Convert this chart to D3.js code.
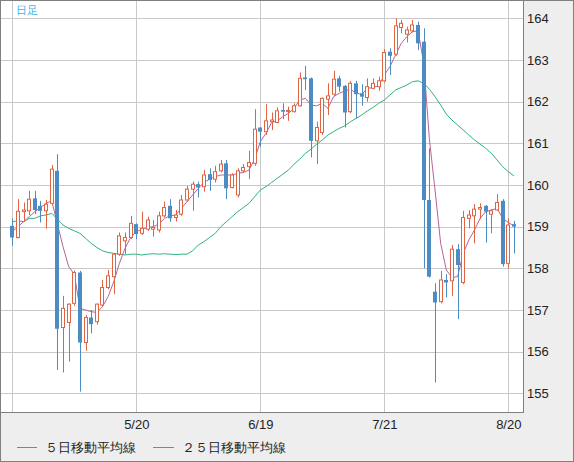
<!DOCTYPE html>
<html><head><meta charset="utf-8">
<script src="https://cdn.jsdelivr.net/npm/d3@7"></script>
<style>
html,body{margin:0;padding:0;background:#fff;}
svg{display:block;}
text{font-family:"Liberation Sans","DejaVu Sans",sans-serif;}
</style></head>
<body>
<svg id="c" width="574" height="462"></svg>
<script>
// ---- data ----
const openV = [159.02,158.74,159.36,159.38,159.68,159.50,159.38,159.56,160.34,156.58,
156.70,157.16,157.90,156.22,156.82,156.72,157.12,157.54,157.80,158.34,
158.66,158.74,159.06,158.84,158.94,158.94,158.92,159.26,159.50,159.22,
159.30,159.64,159.90,160.02,159.96,160.26,160.14,160.34,160.52,159.94,
159.76,160.34,160.44,160.52,161.38,161.28,161.52,161.50,161.80,161.77,
161.76,161.90,162.58,162.56,161.06,161.26,162.06,162.18,162.56,162.38,
161.76,162.44,162.20,162.10,162.32,162.36,162.50,163.20,163.14,163.78,
163.62,163.70,163.84,163.44,159.64,157.44,157.20,157.72,157.70,158.46,
157.66,159.20,159.26,159.42,159.50,159.30,159.40,159.62,158.12,159.06];
const highV = [159.20,159.66,159.58,159.86,159.86,159.62,159.64,160.48,160.74,157.34,
157.16,157.95,157.94,156.88,157.00,157.16,157.72,157.96,158.36,158.86,
158.86,159.26,159.08,159.36,159.24,159.16,159.36,159.60,159.66,159.40,
159.76,159.98,160.08,160.08,160.36,160.40,160.46,160.60,160.60,160.28,
160.40,160.50,160.82,161.82,161.38,161.94,161.74,161.86,161.96,161.88,
161.96,162.70,162.86,162.58,161.52,162.10,162.44,162.74,162.62,162.40,
162.50,162.50,162.42,162.56,162.56,162.60,163.26,163.28,164.00,163.96,
163.80,163.96,163.92,163.76,160.88,157.64,157.94,157.86,158.56,158.58,
159.38,159.40,159.54,159.56,159.52,159.42,159.78,159.66,159.20,159.14];
const lowV = [158.54,158.72,159.12,159.28,159.30,159.10,158.95,159.52,155.56,155.50,
155.76,157.10,155.04,156.02,156.44,156.65,157.08,157.50,157.38,158.30,
158.34,158.70,158.70,158.80,158.90,158.76,158.86,159.22,159.12,159.12,
159.26,159.60,159.38,159.70,159.84,159.86,160.06,160.30,159.66,159.92,
159.70,160.30,160.14,160.46,160.92,161.20,161.32,161.48,161.58,161.54,
161.74,161.88,162.28,160.66,160.50,161.20,161.68,162.14,162.24,161.38,
161.72,161.60,161.90,162.00,162.30,162.26,162.46,162.64,163.10,163.64,
163.42,163.66,163.24,158.00,157.78,155.26,157.16,157.30,157.34,156.78,
157.62,158.96,158.60,159.18,158.62,158.84,159.38,158.04,158.00,158.36];
const closeV = [158.74,159.37,159.40,159.66,159.40,159.38,159.54,160.38,156.55,157.04,
157.14,157.90,156.22,156.82,156.66,157.14,157.54,157.82,158.34,158.78,
158.74,159.08,158.82,158.96,159.16,158.98,159.26,159.46,159.20,159.28,
159.64,159.90,160.02,159.94,160.24,160.12,160.32,160.50,159.92,160.24,
160.34,160.42,160.54,161.34,161.28,161.54,161.56,161.78,161.76,161.79,
161.90,162.56,162.54,161.06,161.38,162.08,162.14,162.54,162.36,161.74,
162.44,162.18,162.12,162.36,162.44,162.50,163.18,163.10,163.82,163.88,
163.72,163.84,163.40,159.64,157.80,157.18,157.72,157.66,158.46,158.08,
159.22,159.28,159.42,159.46,159.36,159.38,159.58,158.10,159.04,159.00];
const ma5V = [158.88,159.00,159.12,159.24,159.36,159.46,159.56,159.62,159.06,158.52,
158.04,157.86,157.04,157.00,156.96,156.94,157.08,157.32,157.68,158.12,
158.48,158.74,158.88,158.94,158.98,159.00,159.06,159.20,159.26,159.28,
159.44,159.60,159.76,159.92,160.06,160.14,160.20,160.24,160.24,160.24,
160.28,160.30,160.36,160.62,161.04,161.24,161.50,161.54,161.64,161.72,
161.84,162.04,162.08,161.92,161.90,161.96,161.84,162.12,162.20,162.26,
162.30,162.20,162.18,162.32,162.34,162.38,162.64,162.84,163.12,163.40,
163.56,163.68,163.70,162.92,161.10,159.88,158.60,157.96,157.78,157.80,
158.36,158.68,158.92,159.20,159.36,159.40,159.44,159.20,159.10,159.02];
const ma25V = [159.12,159.14,159.12,159.20,159.20,159.26,159.28,159.32,159.18,159.04,
158.96,158.90,158.84,158.72,158.60,158.50,158.42,158.38,158.36,158.34,
158.32,158.34,158.34,158.32,158.34,158.35,158.34,158.35,158.34,158.33,
158.34,158.34,158.42,158.56,158.64,158.74,158.84,159.00,159.12,159.24,
159.36,159.46,159.56,159.72,159.88,159.96,160.06,160.16,160.26,160.36,
160.50,160.62,160.76,160.86,160.98,161.08,161.20,161.28,161.36,161.42,
161.52,161.60,161.68,161.78,161.86,161.96,162.04,162.16,162.28,162.34,
162.40,162.48,162.50,162.44,162.30,162.12,161.92,161.70,161.56,161.44,
161.32,161.20,161.08,160.98,160.88,160.76,160.60,160.44,160.32,160.22];
const yTicks = [155,156,157,158,159,160,161,162,163,164];
const xTickIdx = [0,22,44,66,88];
const xTickLabels = ["","5/20","6/19","7/21","8/20"];
const legendLabels = ["５日移動平均線","２５日移動平均線"];
const chartTitle = "日足";

// ---- drawing ----
const svg = d3.select("#c");
const W=574,H=462, PL=1, PT=1, PR=523, PB=412;
const C = {up:"#df6443", down:"#4d8cc3", ma5:"#b8639a", ma25:"#2fb37c", grid:"#c9c9c9", frame:"#808080", panel:"#eeeeee"};

const x = d3.scaleLinear().domain([0,88]).range([12.3,508.3]);
const y = d3.scaleLinear().domain([155,164]).range([393.33,18.33]);

svg.append("rect").attr("x",0).attr("y",0).attr("width",W).attr("height",H).attr("fill",C.panel);
svg.append("rect").attr("x",PL).attr("y",PT).attr("width",PR-PL).attr("height",PB-PT).attr("fill","#fff");

const defs = svg.append("defs");
defs.append("clipPath").attr("id","clip").append("rect").attr("x",PL).attr("y",PT).attr("width",PR-PL).attr("height",PB-PT);

// grid
const g = svg.append("g");
g.selectAll("line.h").data(yTicks).enter().append("line")
  .attr("x1",PL).attr("x2",PR).attr("y1",d=>Math.round(y(d))+0.5).attr("y2",d=>Math.round(y(d))+0.5)
  .attr("stroke",C.grid).attr("stroke-width",1);
g.selectAll("line.v").data(xTickIdx).enter().append("line")
  .attr("y1",PT).attr("y2",PB).attr("x1",d=>Math.round(x(d))+0.5).attr("x2",d=>Math.round(x(d))+0.5)
  .attr("stroke",C.grid).attr("stroke-width",1);

const plot = svg.append("g").attr("clip-path","url(#clip)");
const idx = d3.range(closeV.length);

// 25 MA and 5 MA
const line = arr => d3.line().x(i=>x(i)).y(i=>y(arr[i]))(idx);
plot.append("path").attr("d",line(ma25V)).attr("fill","none").attr("stroke",C.ma25).attr("stroke-width",1);
plot.append("path").attr("d",line(ma5V)).attr("fill","none").attr("stroke",C.ma5).attr("stroke-width",1);

// candles
const up = i => closeV[i]>=openV[i];
const cg = plot.selectAll("g.c").data(idx).enter().append("g");
cg.append("line")
  .attr("x1",i=>Math.round(x(i))+0.5).attr("x2",i=>Math.round(x(i))+0.5)
  .attr("y1",i=>y(highV[i])).attr("y2",i=>y(lowV[i]))
  .attr("stroke",i=>up(i)?C.up:C.down).attr("stroke-width",1);
cg.append("rect")
  .attr("x",i=>up(i)? Math.round(x(i))-1.5 : Math.round(x(i))-1.5)
  .attr("y",i=>y(Math.max(openV[i],closeV[i])))
  .attr("width",i=>up(i)?3:4)
  .attr("height",i=>Math.max(1,y(Math.min(openV[i],closeV[i]))-y(Math.max(openV[i],closeV[i]))))
  .attr("fill",i=>up(i)?"#fff":C.down)
  .attr("stroke",i=>up(i)?C.up:"none")
  .attr("stroke-width",1)
  .attr("transform",i=>up(i)?"translate(0,0)":"translate(-0.5,0)");

// frame
svg.append("line").attr("x1",PR+0.5).attr("x2",PR+0.5).attr("y1",0).attr("y2",PB+1).attr("stroke",C.frame);
svg.append("line").attr("x1",0).attr("x2",PR+1).attr("y1",PB+0.5).attr("y2",PB+0.5).attr("stroke",C.frame);
svg.append("rect").attr("x",0.5).attr("y",0.5).attr("width",W-1).attr("height",H-1).attr("fill","none").attr("stroke",C.frame);

// y axis
const ya = svg.append("g").attr("transform",`translate(${PR},0)`)
  .call(d3.axisRight(y).tickValues(yTicks).tickSize(0).tickPadding(4).tickFormat(d3.format("d")));
ya.select(".domain").remove();
ya.selectAll("text").attr("font-size",13).attr("fill","#222").attr("font-family","'Liberation Sans',sans-serif");

// x axis
const xa = svg.append("g").attr("transform",`translate(0,${PB})`)
  .call(d3.axisBottom(x).tickValues(xTickIdx).tickSize(0).tickPadding(8).tickFormat((d,k)=>xTickLabels[k]));
xa.select(".domain").remove();
xa.selectAll("text").attr("font-size",13).attr("fill","#222").attr("font-family","'DejaVu Sans Mono',monospace");

// title
svg.append("text").attr("x",16).attr("y",10).attr("dominant-baseline","central")
  .attr("font-size",11).attr("fill","#3db5e8").attr("font-family","'Noto Sans CJK JP',sans-serif").text(chartTitle);

// legend
const lg = [{x1:17,x2:37,tx:45,c:C.ma5,t:legendLabels[0]},{x1:153,x2:174,tx:182,c:C.ma25,t:legendLabels[1]}];
lg.forEach(l=>{
  svg.append("line").attr("x1",l.x1).attr("x2",l.x2).attr("y1",447.5).attr("y2",447.5).attr("stroke",l.c);
  svg.append("text").attr("x",l.tx).attr("y",447.5).attr("dominant-baseline","central")
    .attr("font-size",13).attr("fill","#222").attr("font-family","'Noto Sans CJK JP',sans-serif").text(l.t);
});
</script>
</body></html>
